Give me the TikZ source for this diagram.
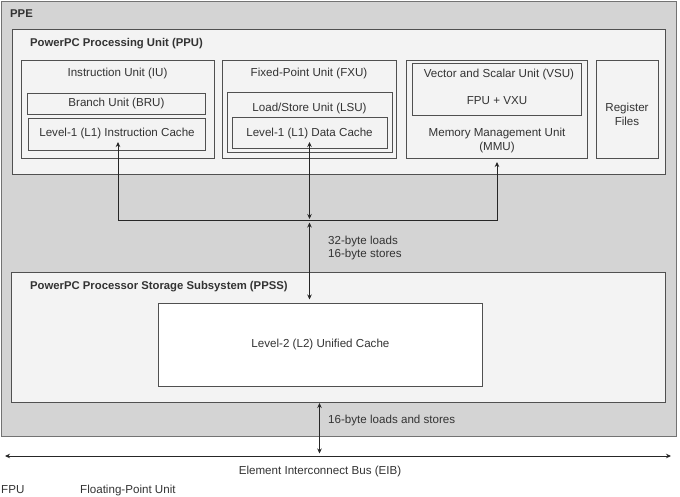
\documentclass[tikz,border=0pt]{standalone}
\usepackage{fontspec}
\setmainfont{Liberation Sans}
\usetikzlibrary{arrows.meta}
\definecolor{ppegray}{HTML}{D4D4D4}
\definecolor{light}{HTML}{F3F3F3}
\definecolor{linec}{HTML}{505050}
\definecolor{txt}{HTML}{333333}
\begin{document}
\begin{tikzpicture}[x=1pt,y=-1pt,
  box/.style={draw=linec, line width=0.9pt, fill=light, inner sep=0pt},
  lbl/.style={text=txt, font=\fontsize{11.6}{14}\selectfont, inner sep=0pt, align=center},
  head/.style={text=txt, font=\fontsize{11.3}{13}\selectfont\bfseries, inner sep=0pt, anchor=west},
  note/.style={text=txt, font=\fontsize{11.6}{13}\selectfont, inner sep=0pt, anchor=west, align=left},
  conn/.style={draw=black!85, line width=0.8pt},
  arr/.style={conn, -{Stealth[length=5pt,width=4.5pt]}},
  darr/.style={conn, {Stealth[length=5pt,width=4.5pt]}-{Stealth[length=5pt,width=4.5pt]}}]
\useasboundingbox (0,0) rectangle (680,496);
% PPE
\node[box, draw=black!55, fill=ppegray, minimum width=675pt, minimum height=435pt, anchor=north west] (ppe) at (1,1) {};
\node[head] (ppel) at (10,14) {PPE};
% PPU
\node[box, minimum width=653pt, minimum height=145pt, anchor=north west] (ppu) at (12,28.5) {};
\node[head] (ppul) at (30,43.5) {PowerPC Processing Unit (PPU)};
% IU
\node[box, minimum width=193pt, minimum height=98pt, anchor=north west] (iu) at (21,60) {};
\node[lbl] (iul) at (117.5,73.5) {Instruction Unit (IU)};
\node[box, minimum width=178pt, minimum height=21pt, anchor=north west] (bru) at (27,93) {};
\node[lbl] at (bru.center) {Branch Unit (BRU)};
\node[box, minimum width=177pt, minimum height=32pt, anchor=north west] (l1i) at (28,118) {};
\node[lbl] at (117,133) {Level-1 (L1) Instruction Cache};
% FXU
\node[box, minimum width=174pt, minimum height=98pt, anchor=north west] (fxu) at (222,60) {};
\node[lbl] (fxul) at (309,73.5) {Fixed-Point Unit (FXU)};
\node[box, minimum width=165pt, minimum height=60pt, anchor=north west] (lsu) at (227,92) {};
\node[lbl] (lsul) at (309.5,108) {Load/Store Unit (LSU)};
\node[box, minimum width=155pt, minimum height=31pt, anchor=north west] (l1d) at (232,117) {};
\node[lbl] at (309.5,133) {Level-1 (L1) Data Cache};
% MMU
\node[box, minimum width=181pt, minimum height=98pt, anchor=north west] (mmu) at (406,60) {};
\node[box, minimum width=169pt, minimum height=52pt, anchor=north west] (vsu) at (412,63) {};
\node[lbl] (vsul) at (499,74) {Vector and Scalar Unit (VSU)};
\node[lbl] (fpuvxu) at (497,101) {FPU + VXU};
\node[lbl] (mmul) at (497,140) {Memory Management Unit\\(MMU)};
% Register files
\node[box, minimum width=62pt, minimum height=98pt, anchor=north west] (reg) at (596,60) {};
\node[lbl] at (627,114) {Register\\Files};
% PPSS
\node[box, minimum width=654pt, minimum height=130pt, anchor=north west] (ppss) at (11,272) {};
\node[head] (ppssl) at (30,287) {PowerPC Processor Storage Subsystem (PPSS)};
\node[box, fill=white, minimum width=324pt, minimum height=83pt, anchor=north west] (l2) at (158,303) {};
\node[lbl] at (l2.center) {Level-2 (L2) Unified Cache};
% connectors
\coordinate (ti) at (118,142);
\coordinate (td) at (309.5,142);
\coordinate (tm) at (497,162);
\coordinate (bi) at (118,220.5);
\coordinate (bd) at (309.5,219);
\coordinate (bm) at (497,220.5);
\coordinate (b2) at (309.5,222.5);
\coordinate (l2t) at (309.5,299.5);
\draw[arr] (bi) -- (ti);
\draw[arr] (bm) -- (tm);
\draw[conn] (bi) -- (bm);
\draw[darr] (bd) -- (td);
\draw[darr] (b2) -- (l2t);
\node[note] (lbl32) at (328,247.5) {32-byte loads\\16-byte stores};
% EIB
\coordinate (eibl) at (5,456);
\coordinate (eibr) at (671,456);
\draw[darr] (eibl) -- (eibr);
\coordinate (ppssb) at (319.5,403);
\coordinate (eibm) at (319.5,453.5);
\draw[darr] (eibm) -- (ppssb);
\node[note] (lbl16) at (328,420) {16-byte loads and stores};
\node[lbl] (eib) at (320,471) {Element Interconnect Bus (EIB)};
\node[note] (fpu) at (1,490) {FPU};
\node[note] (fpud) at (80,490) {Floating-Point Unit};
\end{tikzpicture}
\end{document}
